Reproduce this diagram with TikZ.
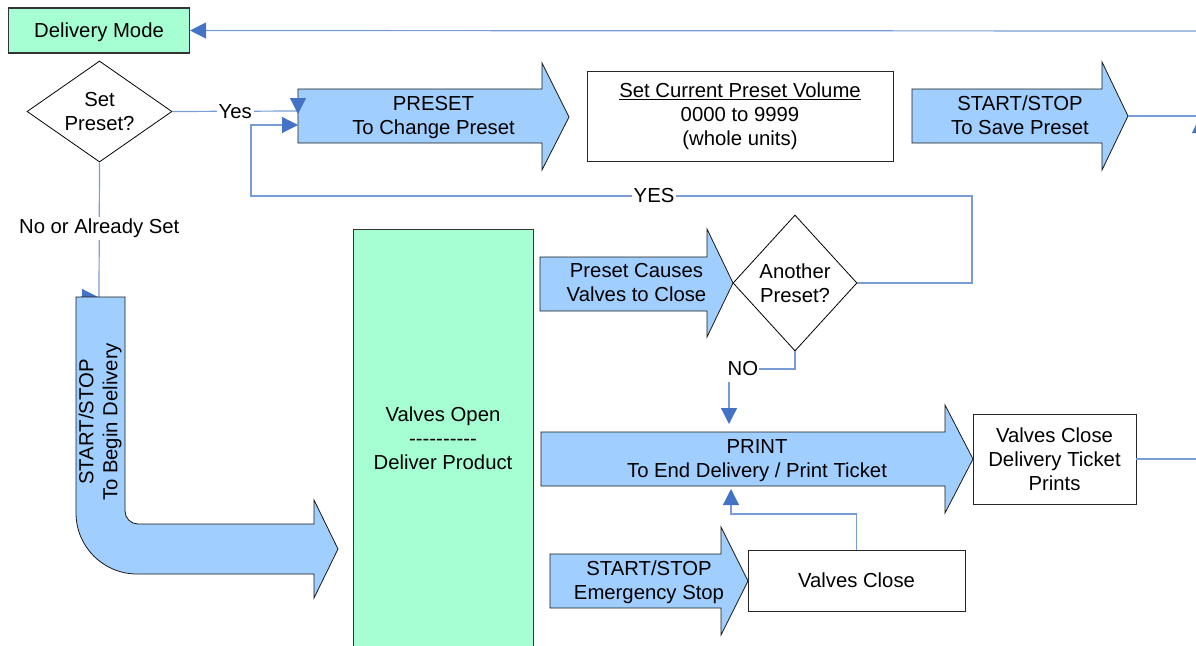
\documentclass[tikz,border=0pt]{standalone}
\usepackage{fontspec}
\setmainfont{Liberation Sans}
\usetikzlibrary{shapes.geometric,arrows.meta}

\definecolor{arrowfill}{RGB}{160,206,255}
\definecolor{modefill}{RGB}{166,255,210}
\definecolor{linkblue}{RGB}{122,156,214}
\definecolor{tipblue}{RGB}{68,114,196}

% block arrow: left x, body top, body bottom, head base x, head top, head bottom, tip x, tip y
\newcommand\blockarrowpath[8]{%
  \draw[blockarrow] (#1,#2) -- (#4,#2) -- (#4,#5) -- (#7,#8) -- (#4,#6) -- (#4,#3) -- (#1,#3) -- cycle;}

\begin{document}
\begin{tikzpicture}[x=1pt,y=-1pt,
  every node/.style={font=\fontsize{20.3}{24}\selectfont, inner sep=0pt},
  txt/.style={align=center},
  modebox/.style={draw=black!80, line width=1.1pt, fill=modefill, align=center},
  plainbox/.style={draw=black!85, line width=0.9pt, fill=white, align=center},
  decision/.style={diamond, draw=black, line width=0.8pt, fill=white, align=center},
  blockarrow/.style={draw=black!90, line width=0.8pt, fill=arrowfill},
  conn/.style={draw=linkblue, line width=1.2pt},
  linkarrow/.style={-{Triangle[length=16pt,width=16pt,color=tipblue,fill=tipblue]}},
  lbl/.style={fill=white, inner sep=2pt}
]
\useasboundingbox (0,0) rectangle (1196,645);
\clip (0,0) rectangle (1196,645);

% free ends of connectors
\coordinate (topEdge) at (1196,31);
\coordinate (yesEnd) at (298,111);
\coordinate (yesDropA) at (298,98.5);
\coordinate (yesDropB) at (298,114);
\coordinate (presetLeft) at (298,125);
\coordinate (saveTip) at (1128,116);
\coordinate (rightEdge) at (1196,116);
\coordinate (edgeLow) at (1200,150);
\coordinate (edgeHigh) at (1200,117);
\coordinate (beginTop) at (99,297);
\coordinate (beginArrA) at (81,297);
\coordinate (beginArrB) at (98,297);
\coordinate (printTop) at (729,424);
\coordinate (printBelow) at (731,489);
\coordinate (ticketEdge) at (1196,459);

% decision: set preset
\node[decision, minimum width=145pt, minimum height=101pt, aspect=1.44] (setp) at (99.5,111.5) {Set\\Preset?};

% connector into the bent arrow (partly hidden under it)
\draw[conn] (setp.south) -- node[lbl, pos=0.49] {No or Already Set} (beginTop);
\draw[conn, linkarrow] (beginArrA) -- (beginArrB);

% bent arrow: START/STOP to begin delivery
\draw[blockarrow] (76,297) -- (125,297) -- (125,511)
  .. controls (125,518.2) and (130.8,524) .. (138,524)
  -- (314,524) -- (314,500) -- (338,549) -- (314,598) -- (314,574) -- (137,574)
  .. controls (103.3,574) and (76,546.7) .. (76,513) -- cycle;
\node[txt, rotate=90] (begin) at (100,422) {START/STOP\\To Begin Delivery};

% delivery mode
\node[modebox, minimum width=181pt, minimum height=45pt, text depth=0pt] (mode) at (99,30.5) {Delivery Mode};

% valves open column
\draw[modebox, line width=0.9pt] (353,229) rectangle (533,700);
\node[txt] (open) at (443,438) {Valves Open\\-{}-{}-{}-{}-{}-{}-{}-{}-{}-\\Deliver Product};

% block arrows
\blockarrowpath{298}{89}{143}{542}{63}{170}{569}{117}
\node[txt] (preset) at (433.5,118) {PRESET\\To Change Preset};

\blockarrowpath{912}{89}{143}{1102}{62}{170}{1128}{116}
\node[txt] (savepreset) at (1020,115) {START/STOP\\To Save Preset};

\blockarrowpath{540}{257}{311}{707}{229}{337}{733}{283}
\node[txt] (causes) at (636.5,283) {Preset Causes\\Valves to Close};

\blockarrowpath{541}{432}{486}{945}{405}{513}{973}{459}
\node[txt] (print) at (757,461) {PRINT\\To End Delivery / Print Ticket};

\blockarrowpath{550}{554}{608}{721}{527}{635}{748}{581}
\node[txt] (estop) at (649,582) {START/STOP\\Emergency Stop};

% boxes
\node[plainbox, minimum width=306pt, minimum height=90pt] (volume) at (740,116)
  {\underline{Set Current Preset Volume}\\0000 to 9999\\(whole units)};
\node[plainbox, minimum width=163pt, minimum height=90pt] (ticket) at (1054.5,459)
  {Valves Close\\Delivery Ticket\\Prints};
\node[plainbox, minimum width=217pt, minimum height=61pt] (vclose) at (856.5,580.5) {Valves Close};

% decision: another preset
\node[decision, minimum width=124pt, minimum height=136pt, aspect=0.91] (another) at (795,283) {Another\\Preset?};

% connectors
\draw[conn, linkarrow] (topEdge) -- (mode.east);
\draw[conn] (setp.east) -- node[lbl] {Yes} (yesEnd);
\draw[conn, linkarrow] (yesDropA) -- (yesDropB);
\draw[conn, linkarrow] (another.east) -- (972,283) -- (972,196)
  -- node[lbl, pos=0.441] {YES} (251,196) -- (251,125) -- (presetLeft);
\draw[conn] (saveTip) -- (rightEdge);
\draw[conn, linkarrow] (edgeLow) -- (edgeHigh);
\draw[conn, linkarrow] (another.south) -- (795,369)
  -- node[lbl, pos=0.79, inner ysep=6pt, inner xsep=1pt] {NO} (729,369) -- (printTop);
\draw[conn, linkarrow] (vclose.north) |- (731,514) -- (printBelow);
\draw[conn] (ticket.east) -- (ticketEdge);
\end{tikzpicture}
\end{document}
